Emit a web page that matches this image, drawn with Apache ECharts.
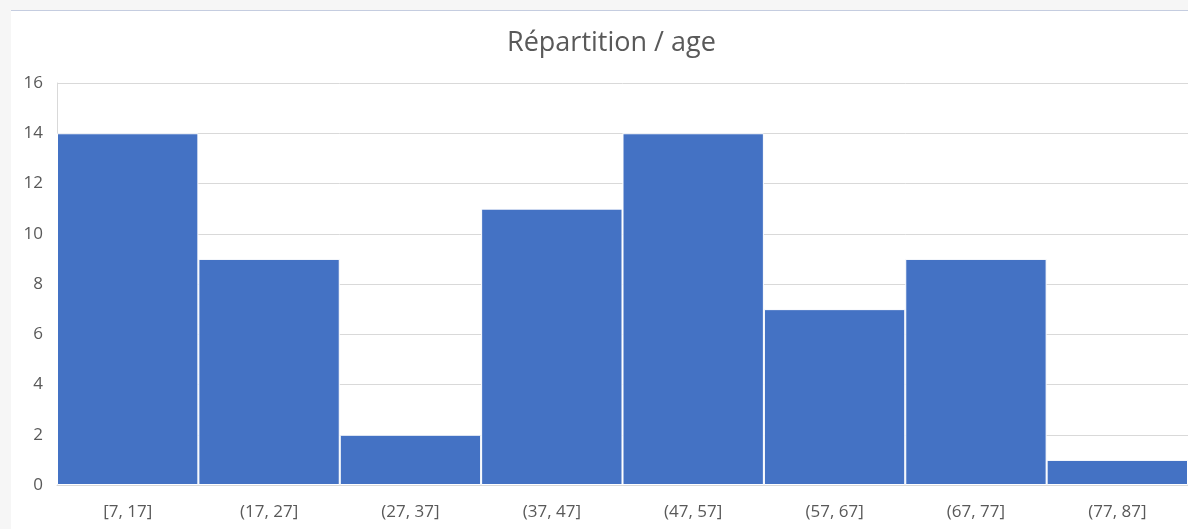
<!DOCTYPE html>
<html><head><meta charset="utf-8">
<script src="https://cdn.jsdelivr.net/npm/echarts@6/dist/echarts.min.js"></script>
<style>
html,body{margin:0;padding:0;width:1188px;height:529px;overflow:hidden;background:#f6f6f6;}
#wrap{position:absolute;left:11px;top:10px;width:1177px;height:519px;background:#fff;border-top:1px solid #c5cde0;}
#chart{position:absolute;left:0;top:0;width:1177px;height:519px;}
</style></head>
<body><div id="wrap"><div id="chart"></div></div>
<script>
const categories = ['[7, 17]','(17, 27]','(27, 37]','(37, 47]','(47, 57]','(57, 67]','(67, 77]','(77, 87]'];
const counts = [14, 9, 2, 11, 14, 7, 9, 1];
const yTicks = {min: 0, max: 16, interval: 2};
const title = 'Répartition / age';

const chart = echarts.init(document.getElementById('chart'), null, {renderer:'canvas'});
chart.setOption({
  animation:false,
  title:{text:title,left:491,top:14,textStyle:{fontFamily:'Open Sans',fontSize:27,fontWeight:'normal',color:'#595959'}},
  grid:{left:46,right:0,top:72,bottom:45},
  xAxis:{type:'category',data:categories,
    axisLine:{show:true,lineStyle:{color:'#d9d9d9'}},axisTick:{show:false},
    axisLabel:{color:'#595959',fontFamily:'Open Sans',fontSize:17,margin:19}},
  yAxis:{type:'value',min:yTicks.min,max:yTicks.max,interval:yTicks.interval,
    axisLine:{show:true,lineStyle:{color:'#d9d9d9'}},axisTick:{show:false},
    splitLine:{lineStyle:{color:'#d9d9d9'}},
    axisLabel:{color:'#595959',fontFamily:'Open Sans',fontSize:17,margin:14}},
  series:[{type:'bar',data:counts,barCategoryGap:'0%',
    itemStyle:{color:'#4472c4',borderColor:'#ffffff',borderWidth:1}}]
});
</script></body></html>
